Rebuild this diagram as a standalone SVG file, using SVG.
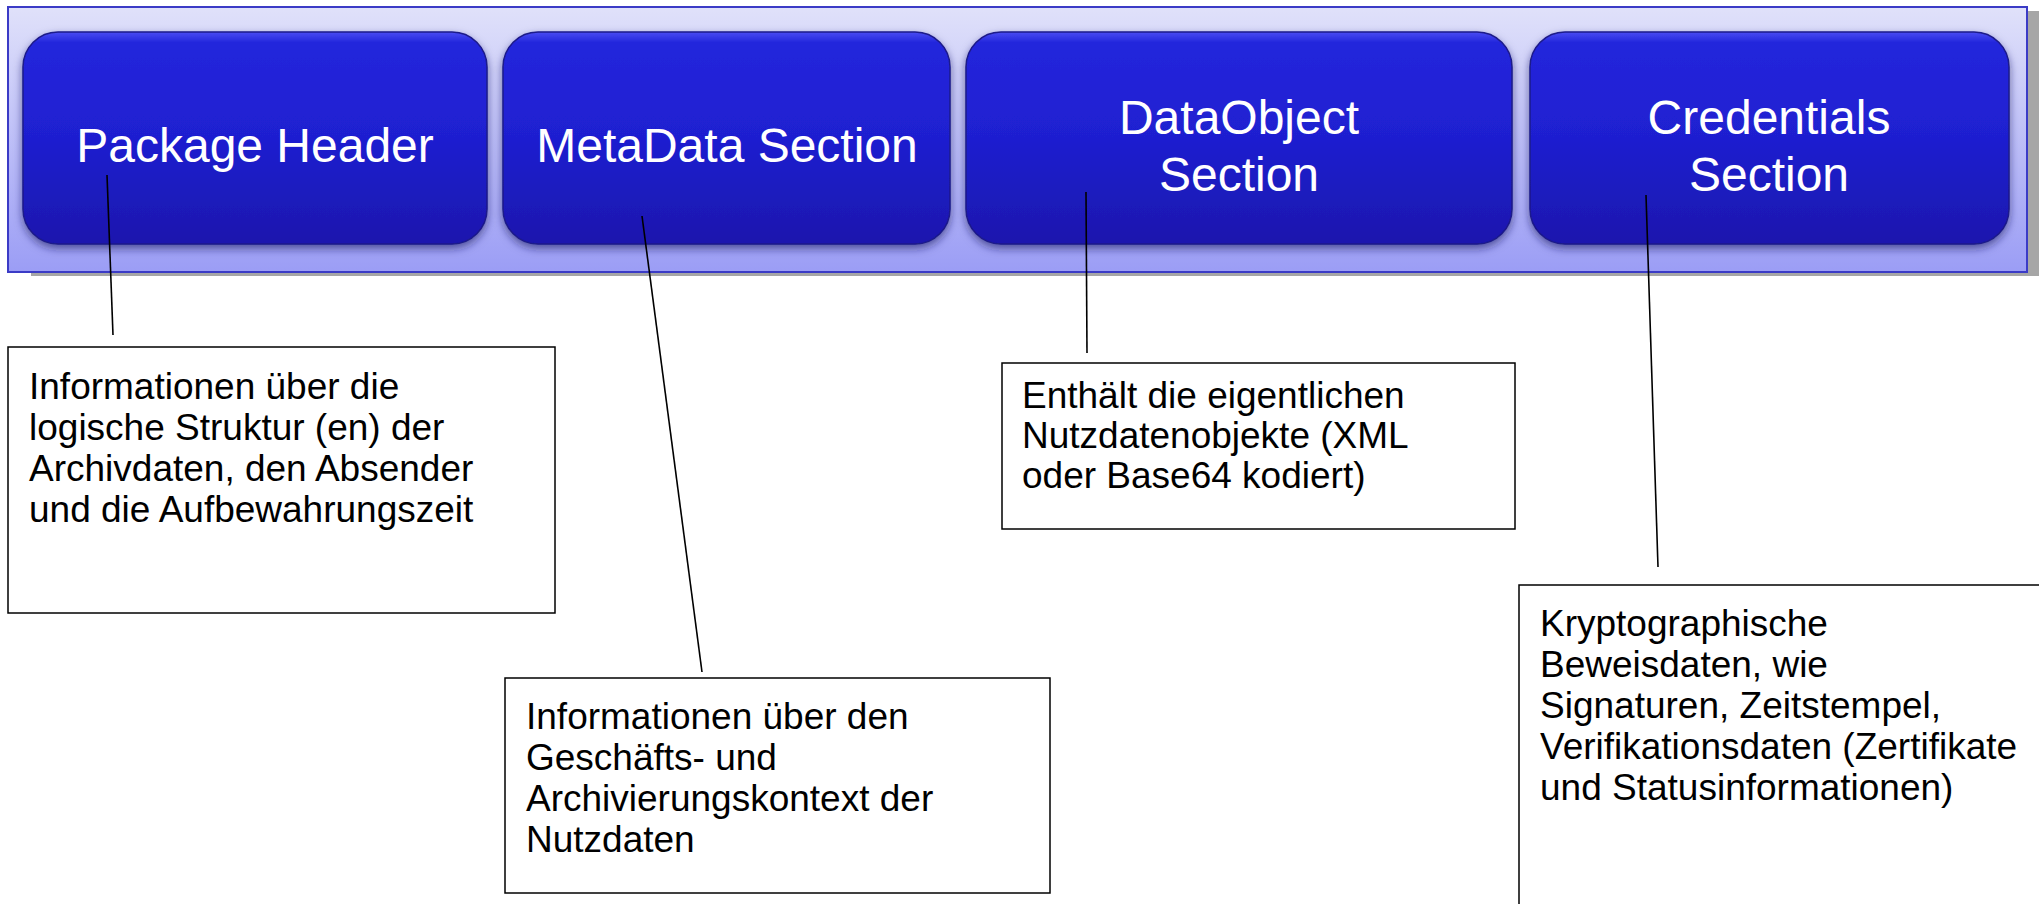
<svg xmlns="http://www.w3.org/2000/svg" width="2039" height="904" viewBox="0 0 2039 904">
  <defs>
    <linearGradient id="bandGrad" x1="0" y1="0" x2="0" y2="1">
      <stop offset="0" stop-color="#e0e1fa"/>
      <stop offset="1" stop-color="#9b9df5"/>
    </linearGradient>
    <linearGradient id="boxGrad" x1="0" y1="0" x2="0" y2="1">
      <stop offset="0" stop-color="#4a4cf2"/>
      <stop offset="0.05" stop-color="#2326dc"/>
      <stop offset="0.5" stop-color="#1f1fd0"/>
      <stop offset="1" stop-color="#1a17ad"/>
    </linearGradient>
    <filter id="boxShadow" x="-10%" y="-10%" width="120%" height="130%">
      <feGaussianBlur in="SourceAlpha" stdDeviation="4"/>
      <feOffset dx="0" dy="4" result="b"/>
      <feFlood flood-color="#1a1a60" flood-opacity="0.6"/>
      <feComposite in2="b" operator="in"/>
      <feMerge><feMergeNode/><feMergeNode in="SourceGraphic"/></feMerge>
    </filter>
  </defs>
  <style>
    .box { fill: url(#boxGrad); stroke: #1b1a8a; stroke-width: 1.5; filter: url(#boxShadow); }
    .title { font-family: "Liberation Sans", Arial, sans-serif; font-size: 48px; fill: #ffffff; text-anchor: middle; }
    .note { fill: #ffffff; stroke: #000000; stroke-width: 1.5; }
    .ntext { font-family: "Liberation Sans", Arial, sans-serif; font-size: 37px; fill: #000000; }
    .conn line { stroke: #000000; stroke-width: 1.6; }
  </style>
  <rect x="0" y="0" width="2039" height="904" fill="#ffffff"/>

  <g id="band">
    <rect x="31" y="11" width="2019" height="265" fill="#a6a6a6"/>
    <rect x="8" y="7" width="2019" height="265" fill="url(#bandGrad)" stroke="#3b3bc6" stroke-width="2"/>
  </g>

  <g id="package-header">
    <rect class="box" x="23" y="32" width="464" height="212" rx="35" ry="35"/>
    <text class="title" x="255" y="162">Package Header</text>
  </g>
  <g id="metadata-section">
    <rect class="box" x="503" y="32" width="447" height="212" rx="35" ry="35"/>
    <text class="title" x="727" y="162">MetaData Section</text>
  </g>
  <g id="dataobject-section">
    <rect class="box" x="966" y="32" width="546" height="212" rx="35" ry="35"/>
    <text class="title" x="1239" y="134">DataObject</text>
    <text class="title" x="1239" y="191">Section</text>
  </g>
  <g id="credentials-section">
    <rect class="box" x="1530" y="32" width="479" height="212" rx="35" ry="35"/>
    <text class="title" x="1769" y="134">Credentials</text>
    <text class="title" x="1769" y="191">Section</text>
  </g>

  <g id="connectors" class="conn">
    <line x1="107" y1="175" x2="113" y2="335"/>
    <line x1="642" y1="216" x2="702" y2="672"/>
    <line x1="1086" y1="192" x2="1087" y2="353"/>
    <line x1="1646" y1="195" x2="1658" y2="567"/>
  </g>

  <g id="note-header">
    <rect class="note" x="8" y="347" width="547" height="266"/>
    <text class="ntext">
      <tspan x="29" y="399">Informationen über die</tspan>
      <tspan x="29" y="440">logische Struktur (en) der</tspan>
      <tspan x="29" y="481">Archivdaten, den Absender</tspan>
      <tspan x="29" y="522">und die Aufbewahrungszeit</tspan>
    </text>
  </g>
  <g id="note-metadata">
    <rect class="note" x="505" y="678" width="545" height="215"/>
    <text class="ntext">
      <tspan x="526" y="729">Informationen über den</tspan>
      <tspan x="526" y="770">Geschäfts- und</tspan>
      <tspan x="526" y="811">Archivierungskontext der</tspan>
      <tspan x="526" y="852">Nutzdaten</tspan>
    </text>
  </g>
  <g id="note-dataobject">
    <rect class="note" x="1002" y="363" width="513" height="166"/>
    <text class="ntext">
      <tspan x="1022" y="408">Enthält die eigentlichen</tspan>
      <tspan x="1022" y="448">Nutzdatenobjekte (XML</tspan>
      <tspan x="1022" y="488">oder Base64 kodiert)</tspan>
    </text>
  </g>
  <g id="note-credentials">
    <rect class="note" x="1519" y="585" width="600" height="400"/>
    <text class="ntext">
      <tspan x="1540" y="636">Kryptographische</tspan>
      <tspan x="1540" y="677">Beweisdaten, wie</tspan>
      <tspan x="1540" y="718">Signaturen, Zeitstempel,</tspan>
      <tspan x="1540" y="759">Verifikationsdaten (Zertifikate</tspan>
      <tspan x="1540" y="800">und Statusinformationen)</tspan>
    </text>
  </g>
</svg>
